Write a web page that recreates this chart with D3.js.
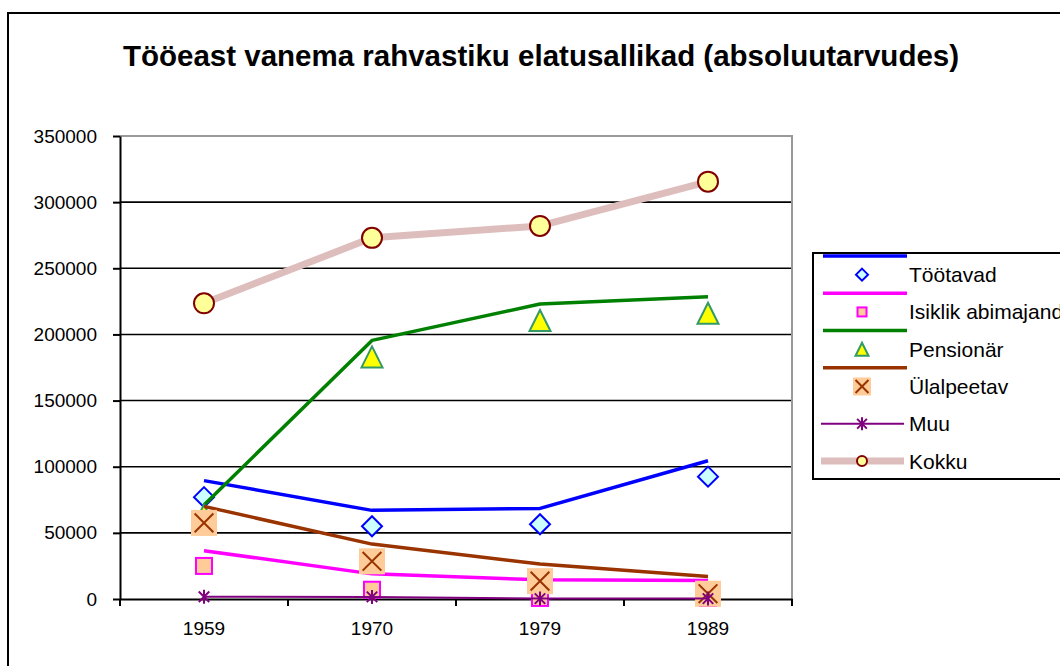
<!DOCTYPE html>
<html lang="et">
<head>
<meta charset="UTF-8">
<title>Tööeast vanema rahvastiku elatusallikad</title>
<script src="https://cdn.jsdelivr.net/npm/d3@7"></script>
<style>
    body { margin: 0; background: #fff; }
    text { font-family: "Liberation Sans", Arial, sans-serif; fill: #000; }
</style>
</head>
<body>
<svg width="1060" height="666" id="chart"></svg>
<script>
// categories and ticks
const years = ["1959", "1970", "1979", "1989"];
const yTicks = [0, 50000, 100000, 150000, 200000, 250000, 300000, 350000];

// in the source sheet the lines and the markers are separate series
const tootavadLine = [89500, 67000, 68500, 104500];
const tootavadPts = [77000, 55000, 56500, 92500];
const isiklikLine = [36500, 19000, 14500, 14000];
const isiklikPts = [25000, 7000, 800, 800];
const pensionarLine = [71000, 195500, 223000, 228500];
const pensionarPts = [63500, 183000, 210500, 216000];
const ylalpeetavLine = [70000, 41500, 26500, 17000];
const ylalpeetavPts = [57500, 28500, 13500, 4000];
const muu = [1700, 1600, 300, 300];
const kokku = [223500, 273000, 282000, 315500];

const series = [
    { name: "Töötavad", line: tootavadLine, pts: tootavadPts, color: "#0000FF", lw: 3.5, marker: "diamond" },
    { name: "Isiklik abimajand", line: isiklikLine, pts: isiklikPts, color: "#FF00FF", lw: 3.5, marker: "square" },
    { name: "Pensionär", line: pensionarLine, pts: pensionarPts, color: "#008000", lw: 3.5, marker: "triangle" },
    { name: "Ülalpeetav", line: ylalpeetavLine, pts: ylalpeetavPts, color: "#993300", lw: 3.5, marker: "cross" },
    { name: "Muu", line: muu, pts: muu, color: "#800080", lw: 2, marker: "star", joined: true },
    { name: "Kokku", line: kokku, pts: kokku, color: "#DEBDBD", lw: 7, marker: "circle", joined: true }
];

const plotSize = { diamond: 20, square: 18, triangle: 21, cross: 26, star: 14, circle: 22 };
const legendSize = { diamond: 12, square: 11, triangle: 13, cross: 18, star: 13, circle: 12 };

const svg = d3.select("#chart");

// outer chart frame, it runs off the right and bottom edges
svg.append("rect")
    .attr("x", 8).attr("y", 13)
    .attr("width", 1100).attr("height", 700)
    .attr("fill", "#fff")
    .attr("stroke", "#000")
    .attr("stroke-width", 2);

// title
svg.append("text")
    .attr("x", 541)
    .attr("y", 66)
    .attr("text-anchor", "middle")
    .attr("font-size", "29.5px")
    .attr("font-weight", "bold")
    .text("Tööeast vanema rahvastiku elatusallikad (absoluutarvudes)");

const x = d3.scaleBand().domain(years).range([120, 792]);
const y = d3.scaleLinear().domain([0, 350000]).range([599, 136]);
const cx = d => x(d) + x.bandwidth() / 2;

// gridlines
svg.append("g")
    .selectAll("line")
    .data(yTicks.filter(t => t > 0 && t < 350000))
    .join("line")
    .attr("x1", 120).attr("x2", 792)
    .attr("y1", d => y(d)).attr("y2", d => y(d))
    .attr("stroke", "#000")
    .attr("stroke-width", 1.6);

// plot area border (top and right are grey)
svg.append("path")
    .attr("d", `M120,${y(350000)}H792V${y(0)}`)
    .attr("fill", "none")
    .attr("stroke", "#999")
    .attr("stroke-width", 2);

// y axis
const yAxis = svg.append("g")
    .attr("transform", "translate(120,0)")
    .call(d3.axisLeft(y).tickValues(yTicks).tickSize(7).tickSizeOuter(0).tickPadding(16).tickFormat(d3.format("d")));
yAxis.select(".domain").attr("stroke", "#000").attr("stroke-width", 2);
yAxis.selectAll(".tick line").attr("stroke", "#000").attr("stroke-width", 2);
yAxis.selectAll("text").attr("font-size", "19px").attr("font-family", null);

// x axis
const xAxis = svg.append("g")
    .attr("transform", `translate(0,${y(0)})`)
    .call(d3.axisBottom(x).tickSize(0).tickSizeOuter(0).tickPadding(23));
xAxis.select(".domain").attr("stroke", "#000").attr("stroke-width", 2);
xAxis.selectAll("text").attr("font-size", "19px").attr("font-family", null);
xAxis.selectAll("line.bound")
    .data(years.map(d => x(d)).concat([x.range()[1]]))
    .join("line")
    .attr("class", "bound")
    .attr("x1", d => d).attr("x2", d => d)
    .attr("y1", 0).attr("y2", 7)
    .attr("stroke", "#000")
    .attr("stroke-width", 2);

// draw one marker into a group centred at 0,0
function drawMarker(g, type, s) {
    const h = s / 2;
    if (type === "diamond") {
        g.append("path").attr("d", `M0,${-h}L${h},0L0,${h}L${-h},0Z`)
            .attr("fill", "#CCFFFF").attr("stroke", "#0000FF").attr("stroke-width", 2);
    } else if (type === "square") {
        g.append("rect").attr("x", -h + 1).attr("y", -h + 1).attr("width", s - 2).attr("height", s - 2)
            .attr("fill", "#FFCC99").attr("stroke", "#FF00FF").attr("stroke-width", 2);
    } else if (type === "triangle") {
        g.append("path").attr("d", `M0,${-h}L${h},${h}L${-h},${h}Z`)
            .attr("fill", "#FFFF00").attr("stroke", "#339966").attr("stroke-width", 2);
    } else if (type === "cross") {
        const k = s * 0.36;
        g.append("rect").attr("x", -h).attr("y", -h).attr("width", s).attr("height", s)
            .attr("fill", "#FFCC99");
        g.append("path").attr("d", `M${-k},${-k}L${k},${k}M${k},${-k}L${-k},${k}`)
            .attr("stroke", "#993300").attr("stroke-width", 2);
    } else if (type === "star") {
        const k = h * 0.75;
        g.append("path").attr("d", `M0,${-h}V${h}M${-k},${-k}L${k},${k}M${k},${-k}L${-k},${k}`)
            .attr("stroke", "#800080").attr("stroke-width", 2);
    } else if (type === "circle") {
        g.append("circle").attr("r", h - 1)
            .attr("fill", "#FFFF99").attr("stroke", "#800000").attr("stroke-width", 2);
    }
}

const line = d3.line().x((d, i) => cx(years[i])).y(d => y(d));

series.forEach(s => {
    svg.append("path")
        .datum(s.line)
        .attr("d", line)
        .attr("fill", "none")
        .attr("stroke", s.color)
        .attr("stroke-width", s.lw)
        .attr("stroke-linejoin", "round");

    s.pts.forEach((v, i) => {
        const g = svg.append("g").attr("transform", `translate(${cx(years[i])},${y(v)})`);
        drawMarker(g, s.marker, plotSize[s.marker]);
    });
});

// legend
const lg = svg.append("g");
lg.append("rect")
    .attr("x", 813).attr("y", 253)
    .attr("width", 300).attr("height", 226)
    .attr("fill", "#fff")
    .attr("stroke", "#000")
    .attr("stroke-width", 2);

const rowY = i => 256 + i * 18.64;
series.forEach((s, k) => {
    const r1 = rowY(k * 2), r2 = rowY(k * 2 + 1);
    if (s.joined) {
        lg.append("line")
            .attr("x1", 821).attr("x2", 904)
            .attr("y1", r2).attr("y2", r2)
            .attr("stroke", s.color).attr("stroke-width", s.lw);
    } else {
        lg.append("line")
            .attr("x1", 823).attr("x2", 907)
            .attr("y1", r1).attr("y2", r1)
            .attr("stroke", s.color).attr("stroke-width", s.lw);
    }
    drawMarker(lg.append("g").attr("transform", `translate(862,${r2})`), s.marker, legendSize[s.marker]);
    lg.append("text")
        .attr("x", 909).attr("y", r2)
        .attr("dy", "0.36em")
        .attr("font-size", "21px")
        .text(s.name);
});
</script>
</body>
</html>
